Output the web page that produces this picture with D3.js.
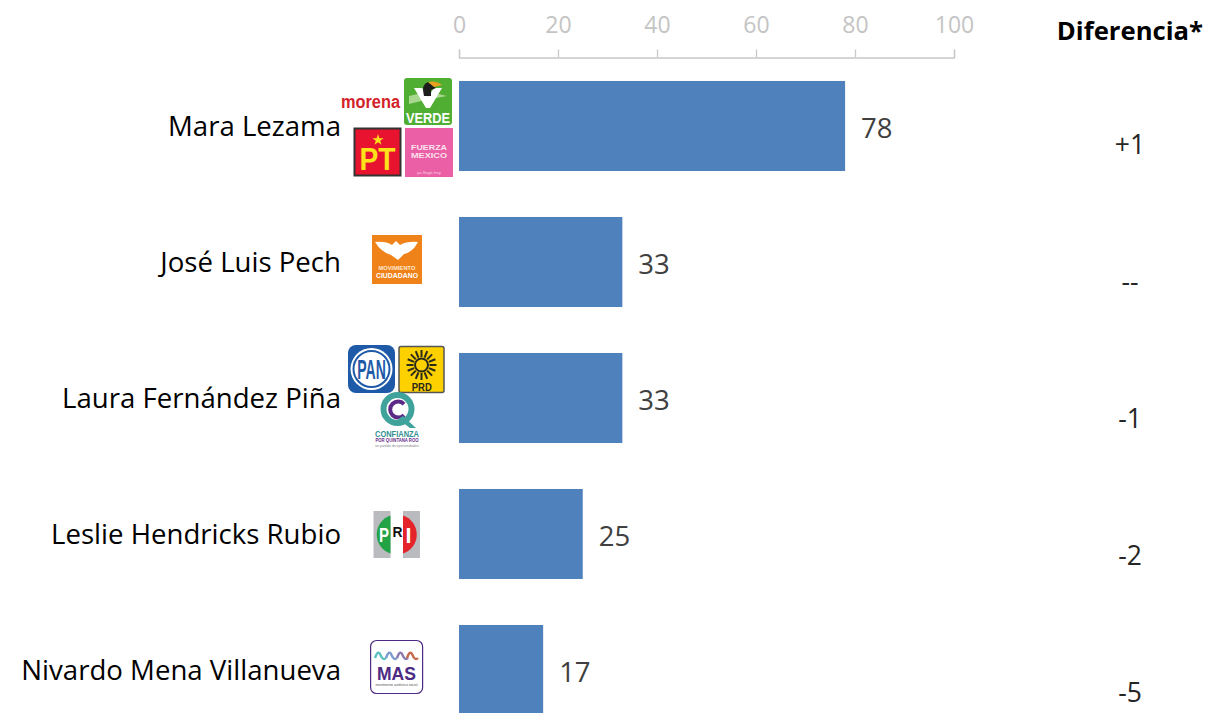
<!DOCTYPE html>
<html><head><meta charset="utf-8">
<script src="https://cdn.jsdelivr.net/npm/d3@7"></script>
<style>html,body{margin:0;background:#fff;overflow:hidden}svg{display:block}text{font-family:"Open Sans",sans-serif}</style>
</head><body><svg id="c" width="1210" height="713"></svg>
<script>
const candidates=["Mara Lezama","José Luis Pech","Laura Fernández Piña","Leslie Hendricks Rubio","Nivardo Mena Villanueva"];
const values=[78,33,33,25,17];
const differences=["+1","--","-1","-2","-5"];
const tickValues=[0,20,40,60,80,100];
const svg=d3.select("#c");
const x=d3.scaleLinear().domain([0,100]).range([459,954]);
const y=d3.scaleBand().domain(candidates).range([81,715]).paddingInner(46/136).paddingOuter(0);
const yDiff=d3.scalePoint().domain(candidates).range([145,693]);
const ax=svg.append("g").attr("transform","translate(0,57.5)")
 .call(d3.axisTop(x).tickValues(tickValues).tickSize(8).tickPadding(17).tickSizeOuter(8));
ax.selectAll("path,line").attr("stroke","#c8c8c8").attr("stroke-width",1.3);
ax.selectAll("text").attr("fill","#c4c4c4").style("font-size","23px").style("font-family",'"Open Sans",sans-serif');
svg.selectAll("rect.bar").data(candidates).join("rect").attr("class","bar")
 .attr("x",x(0)).attr("y",d=>y(d)).attr("height",y.bandwidth())
 .attr("width",(d,i)=>x(values[i])-x(0)).attr("fill","#4f81bd");
svg.selectAll("text.val").data(candidates).join("text").attr("class","val")
 .attr("x",(d,i)=>x(values[i])+16).attr("y",d=>y(d)+y.bandwidth()/2+2).attr("dy",".35em")
 .attr("fill","#404040").style("font-size","27.5px").text((d,i)=>values[i]);
svg.selectAll("text.cat").data(candidates).join("text").attr("class","cat")
 .attr("x",341).attr("y",d=>y(d)+y.bandwidth()/2).attr("dy",".35em").attr("text-anchor","end")
 .attr("fill","#000").style("font-size","27.6px").text(d=>d);
svg.append("text").attr("x",1130).attr("y",40).attr("text-anchor","middle").attr("fill","#000")
 .style("font-size","25.7px").style("font-weight",700).text("Diferencia*");
svg.selectAll("text.dif").data(candidates).join("text").attr("class","dif")
 .attr("x",1130).attr("y",d=>yDiff(d)).attr("dy",".35em").attr("text-anchor","middle")
 .attr("fill","#262626").style("font-size","26.5px").text((d,i)=>differences[i]);
// party logos
const L=svg.append("g").attr("class","logos");
function box(x0,y0,w,h,f,s,r){return L.append("rect").attr("x",x0).attr("y",y0).attr("width",w).attr("height",h).attr("fill",f).attr("stroke",s||"none").attr("rx",r||0);}
function t(x0,y0,str,size,f,w,len){const e=L.append("text").attr("x",x0).attr("y",y0).attr("text-anchor","middle").attr("fill",f).style("font-size",size+"px").style("font-weight",w||700).style("font-family",'"Liberation Sans",sans-serif').text(str);
 if(len)e.attr("textLength",len).attr("lengthAdjust","spacingAndGlyphs");return e;}
// morena
t(370.5,108,"morena",18,"#d3222a",700,59);
// verde
box(404,78,48,47,"#50ae33",null,3);
L.append("path").attr("d","M409 96 Q428 90 447 96 Q428 99 409 104Z").attr("fill","#a8d88f");
L.append("path").attr("d","M414 88 L422 88 L428 97 L434 88 L442 88 L430 108 L426 108Z").attr("fill","#fff");
L.append("path").attr("d","M424 96 Q421 84 428 82 L436 88 L431 90 L431 96Z").attr("fill","#1c1c1c");
L.append("path").attr("d","M428 82 Q436 80 442 85 L434 87Z").attr("fill","#e8a020");
t(428,123,"VERDE",15,"#fff",700,44);
// PT
box(354.5,128.5,46,47,"#e8132f","#333",0).attr("stroke-width",2);
t(377.5,170,"PT",31,"#fde21a",700,36);
L.append("path").attr("d",d3.symbol(d3.symbolStar,40)()).attr("transform","translate(378,140)").attr("fill","#fde21a");
// Fuerza Mexico
box(405,128,48,49,"#ea5fa5");
t(429,150,"FUERZA",7.5,"#fde3ef",700,36);
t(429,158,"MEXICO",7.5,"#fde3ef",700,36);
t(429,174,"ya llegó hoy",4,"#fbd0e4",400,24);
// MC
box(372,235,50,49,"#ef8219");
L.append("path").attr("d","M375 242 Q386 241 392 245 L396 241 L400 245 Q407 241 418 242 Q413 252 404 254 L398 260 L391 255 Q381 252 375 242Z").attr("fill","#fff");
t(397,270,"MOVIMIENTO",6,"#fde8d0",700,37);
t(397,278,"CIUDADANO",7.5,"#fff",700,42);
// PAN
box(348,345,47,48,"#1e5aa8",null,8);
L.append("circle").attr("cx",371.5).attr("cy",369).attr("r",21).attr("fill","#fff");
L.append("circle").attr("cx",371.5).attr("cy",369).attr("r",18).attr("fill","none").attr("stroke","#1e5aa8").attr("stroke-width",2);
t(0,0,"PAN",27,"#1e5aa8",700).attr("transform","translate(371.5,379) scale(.52,1)");
// PRD
box(399,346.5,45,46,"#fdd000","#555",2).attr("stroke-width",1.5);
L.append("g").selectAll("line").data(d3.range(16)).join("line")
 .attr("x1",d=>421.5+8*Math.cos(d*Math.PI/8)).attr("y1",d=>365+8*Math.sin(d*Math.PI/8))
 .attr("x2",d=>421.5+15*Math.cos(d*Math.PI/8)).attr("y2",d=>365+15*Math.sin(d*Math.PI/8))
 .attr("stroke","#2a2a1a").attr("stroke-width",2);
L.append("circle").attr("cx",421.5).attr("cy",365).attr("r",6.5).attr("fill","#fdd000").attr("stroke","#2a2a1a").attr("stroke-width",2);
t(421.8,390.5,"PRD",11,"#2a2a1a",700,20);
// Confianza
L.append("circle").attr("cx",397.5).attr("cy",409).attr("r",14).attr("fill","none").attr("stroke","#3fa39b").attr("stroke-width",6);
L.append("path").attr("d","M404 404 A8 8 0 1 0 404 415").attr("fill","none").attr("stroke","#5b2a86").attr("stroke-width",4);
L.append("path").attr("d","M403 416 L416 428 L410 428 L398 419Z").attr("fill","#3fa39b");
t(397,437,"CONFIANZA",9,"#2f8f93",700,44);
t(397,442,"POR QUINTANA ROO",5,"#6b2f8e",700,43);
t(397,447,"un partido de oportunidades",3.5,"#888",400,44);
// PRI
box(373.5,511,17,47,"#b9bbbe");box(403,511,17,47,"#b9bbbe");
L.append("path").attr("d","M390.5 515.5 A20 20 0 0 0 390.5 553.5Z").attr("fill","#21a346");
L.append("path").attr("d","M403 515.5 A20 20 0 0 1 403 553.5Z").attr("fill","#e4242a");
t(384,542,"P",21,"#fff",700,10);t(397.5,537,"R",15,"#111",700,10);t(408.5,543,"I",22,"#fff",700,6);
// MAS
box(370.6,640.5,52,53,"#fff","#4d2a83",6).attr("stroke-width",1.2);
[["#5cc0c0",375],["#7a9ccc",386],["#8a7ab0",397],["#c66a50",407]].forEach(([c,x0])=>
 L.append("path").attr("d",`M${x0} 658 q3 -9 5.5 -3 t5.5 3`).attr("fill","none").attr("stroke",c).attr("stroke-width",2.4));
t(396.5,680,"MAS",18.5,"#4d2a83",700,39);
t(396.5,685.5,"movimiento auténtico social",3.5,"#555",400,42);
</script></body></html>
